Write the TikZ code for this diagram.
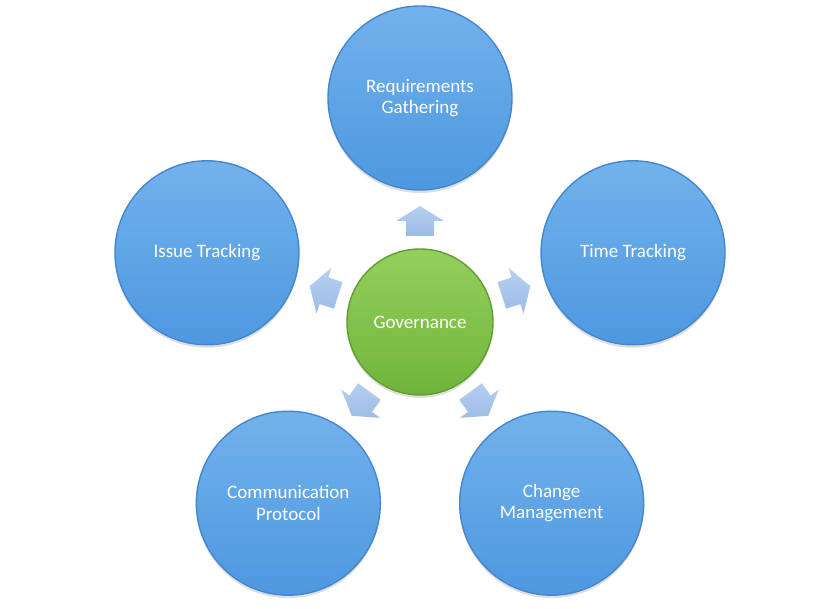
\documentclass[tikz,border=0pt]{standalone}
\usepackage{fontspec}
\setmainfont{Carlito}
\usetikzlibrary{shadows,calc}
\definecolor{bluetop}{HTML}{72B2EC}
\definecolor{bluebot}{HTML}{4D98DF}
\definecolor{bluerim}{HTML}{4487CF}
\definecolor{greentop}{HTML}{94D05C}
\definecolor{greenbot}{HTML}{70B43C}
\definecolor{greenrim}{HTML}{609E32}
\definecolor{arrowtop}{HTML}{B5CFEF}
\definecolor{arrowbot}{HTML}{9DBCE6}
\tikzset{
  outer/.style={circle, minimum size=184pt, inner sep=0pt, top color=bluetop, bottom color=bluebot,
    draw=bluerim, line width=1.4pt, text=white, align=center,
    font=\fontsize{19}{21.5}\selectfont,
    drop shadow={opacity=0.25, shadow xshift=0pt, shadow yshift=-3pt}},
  hub/.style={circle, minimum size=146pt, inner sep=0pt, top color=greentop, bottom color=greenbot,
    draw=greenrim, line width=1.4pt, text=white, align=center,
    font=\fontsize{19}{21.5}\selectfont,
    drop shadow={opacity=0.25, shadow xshift=0pt, shadow yshift=-3pt}},
  blockarrow/.pic={
    \shade[top color=arrowtop, bottom color=arrowbot]
      (-15,-14) -- (0,-14) -- (0,-24) -- (15,0) -- (0,24) -- (0,14) -- (-15,14) -- cycle;
  }
}
\begin{document}
\begin{tikzpicture}[x=1pt,y=1pt]
\useasboundingbox (0,0) rectangle (840,608);
\fill[white] (0,0) rectangle (840,608);
\coordinate (c) at (420,286);
\node[hub] (gov) at (c) {Governance};
\foreach \ang/\nm in {90/a1,162/a2,18/a3,234/a4,306/a5}{
  \coordinate (\nm) at ($(c)+(\ang:101)$);
}
\foreach \nm/\ang in {a1/90,a2/162,a3/18,a4/234,a5/306}{
  \pic[rotate=\ang] at (\nm) {blockarrow};
}
\node[outer] (req) at ($(c)+(90:224)$) {Requirements\\Gathering};
\node[outer] (iss) at ($(c)+(162:224)$) {Issue Tracking};
\node[outer] (tim) at ($(c)+(18:224)$) {Time Tracking};
\node[outer] (com) at ($(c)+(234:224)$) {Communication\\Protocol};
\node[outer] (chg) at ($(c)+(306:224)$) {Change\\Management};
\end{tikzpicture}
\end{document}
